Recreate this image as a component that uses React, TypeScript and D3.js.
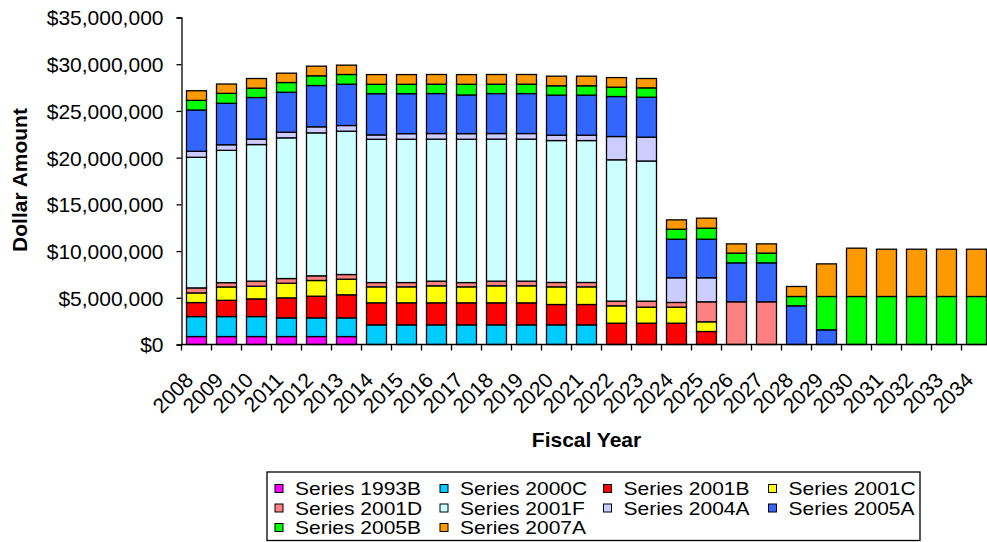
import { useEffect, useMemo, useRef } from "react";
import * as d3 from "d3";

const WIDTH = 987;
const HEIGHT = 542;
const MARGIN = { top: 17.5, left: 181.5, right: -4.5, bottom: 197.5 };
const FONT = "'Liberation Sans', Arial, sans-serif";

const years = [
  "2008", "2009", "2010", "2011", "2012", "2013", "2014", "2015", "2016",
  "2017", "2018", "2019", "2020", "2021", "2022", "2023", "2024", "2025",
  "2026", "2027", "2028", "2029", "2030", "2031", "2032", "2033", "2034",
];

// values in millions of dollars, one per fiscal year
const s1993B = [0.85, 0.85, 0.85, 0.85, 0.85, 0.85, 0, 0, 0, 0, 0, 0, 0, 0, 0, 0, 0, 0, 0, 0, 0, 0, 0, 0, 0, 0, 0];
const s2000C = [2.14, 2.14, 2.14, 2.0, 2.0, 2.0, 2.1, 2.1, 2.1, 2.1, 2.1, 2.1, 2.1, 2.1, 0, 0, 0, 0, 0, 0, 0, 0, 0, 0, 0, 0, 0];
const s2001B = [1.5, 1.74, 1.89, 2.14, 2.32, 2.47, 2.36, 2.36, 2.36, 2.36, 2.36, 2.36, 2.18, 2.18, 2.28, 2.28, 2.28, 1.39, 0, 0, 0, 0, 0, 0, 0, 0, 0];
const s2001C = [1.03, 1.43, 1.36, 1.57, 1.68, 1.67, 1.71, 1.71, 1.82, 1.71, 1.82, 1.82, 1.89, 1.89, 1.86, 1.72, 1.72, 1.04, 0, 0, 0, 0, 0, 0, 0, 0, 0];
const s2001D = [0.54, 0.46, 0.54, 0.5, 0.5, 0.5, 0.46, 0.46, 0.5, 0.46, 0.5, 0.5, 0.47, 0.47, 0.5, 0.64, 0.5, 2.14, 4.57, 4.57, 0, 0, 0, 0, 0, 0, 0];
const s2001F = [13.98, 14.16, 14.62, 15.06, 15.3, 15.34, 15.34, 15.34, 15.2, 15.34, 15.2, 15.2, 15.19, 15.19, 15.13, 15.0, 0, 0, 0, 0, 0, 0, 0, 0, 0, 0, 0];
const s2004A = [0.64, 0.6, 0.58, 0.6, 0.65, 0.61, 0.46, 0.6, 0.6, 0.6, 0.6, 0.6, 0.57, 0.57, 2.49, 2.55, 2.64, 2.57, 0, 0, 0, 0, 0, 0, 0, 0, 0];
const s2005A = [4.42, 4.43, 4.46, 4.28, 4.42, 4.42, 4.42, 4.28, 4.28, 4.14, 4.28, 4.28, 4.29, 4.29, 4.28, 4.28, 4.13, 4.13, 4.17, 4.17, 4.14, 1.57, 0, 0, 0, 0, 0];
const s2005B = [1.03, 1.07, 1.0, 1.04, 1.04, 1.04, 1.0, 1.0, 1.0, 1.14, 1.0, 1.0, 1.0, 1.0, 1.0, 1.0, 1.07, 1.18, 1.04, 1.04, 1.0, 3.57, 5.14, 5.14, 5.14, 5.14, 5.14];
const s2007A = [1.03, 1.0, 1.03, 1.0, 1.03, 1.0, 1.04, 1.04, 1.04, 1.04, 1.04, 1.04, 1.03, 1.03, 1.03, 1.0, 1.0, 1.07, 0.99, 0.99, 1.07, 3.49, 5.17, 5.06, 5.06, 5.06, 5.06];

const seriesNames = [
  "Series 1993B", "Series 2000C", "Series 2001B", "Series 2001C", "Series 2001D",
  "Series 2001F", "Series 2004A", "Series 2005A", "Series 2005B", "Series 2007A",
];
const seriesValues = [s1993B, s2000C, s2001B, s2001C, s2001D, s2001F, s2004A, s2005A, s2005B, s2007A];
const seriesColors = [
  "#FF00FF", "#00CCFF", "#FF0000", "#FFFF00", "#FF8080",
  "#CCFFFF", "#CCCCFF", "#3366FF", "#00FF00", "#FF9900",
];
const yTicks = [0, 5e6, 10e6, 15e6, 20e6, 25e6, 30e6, 35e6];

type Row = { year: string } & Record<string, number | string>;

const Chart = () => {
  const yAxisRef = useRef<SVGGElement>(null);
  const boundsWidth = WIDTH - MARGIN.left - MARGIN.right;
  const boundsHeight = HEIGHT - MARGIN.top - MARGIN.bottom;

  const rows: Row[] = useMemo(
    () =>
      years.map((year, i) => {
        const r: Row = { year };
        seriesNames.forEach((name, k) => {
          r[name] = seriesValues[k][i] * 1e6;
        });
        return r;
      }),
    []
  );

  const stacked = useMemo(() => d3.stack<Row>().keys(seriesNames)(rows), [rows]);

  const xScale = useMemo(
    () =>
      d3.scaleBand().domain(years).range([0, boundsWidth]).paddingInner(1 / 3).paddingOuter(1 / 6),
    [boundsWidth]
  );
  const yScale = useMemo(
    () => d3.scaleLinear().domain([0, 35e6]).range([boundsHeight, 0]),
    [boundsHeight]
  );

  // y axis drawn by d3
  useEffect(() => {
    const g = d3.select(yAxisRef.current);
    g.selectAll("*").remove();
    g.call(
      d3.axisLeft(yScale).tickValues(yTicks).tickFormat(d3.format("$,")).tickSize(5).tickPadding(13)
    );
    g.select(".domain").attr("stroke", "#000").attr("stroke-width", 1.3);
    g.selectAll(".tick line").attr("stroke", "#000").attr("stroke-width", 1.3);
    g.selectAll(".tick text")
      .attr("font-family", FONT)
      .attr("font-size", 21)
      .attr("fill", "#000")
      .attr("dy", "0.35em");
    g.attr("font-size", null).attr("font-family", null);
  }, [yScale]);

  const step = xScale.step();
  const bw = xScale.bandwidth();

  const bars = stacked.map((layer, k) => (
    <g key={layer.key} fill={seriesColors[k]}>
      {layer.map((d, i) => {
        const h = yScale(d[0]) - yScale(d[1]);
        if (h <= 0) return null;
        return (
          <rect
            key={i}
            x={xScale(years[i]) ?? 0}
            y={yScale(d[1])}
            width={bw}
            height={h}
            stroke="#000"
            strokeWidth={1.3}
          />
        );
      })}
    </g>
  ));

  const legendCols = [275, 440, 603.5, 768.5];
  const legendRows = [495, 514.5, 534];

  return (
    <svg
      width={WIDTH}
      height={HEIGHT}
      style={{ position: "absolute", left: 0, top: 0, display: "block", background: "#fff" }}
      fontFamily={FONT}
    >
      <g transform={`translate(${MARGIN.left},${MARGIN.top})`}>
        {bars}
        {/* x axis, ticks sit between the categories */}
        <line x1={0} x2={boundsWidth} y1={boundsHeight} y2={boundsHeight} stroke="#000" strokeWidth={1.3} />
        {d3.range(years.length + 1).map((i) => (
          <line
            key={i}
            x1={i * step}
            x2={i * step}
            y1={boundsHeight}
            y2={boundsHeight + 6}
            stroke="#000"
            strokeWidth={1.3}
          />
        ))}
        {years.map((yr) => {
          const cx = (xScale(yr) ?? 0) + bw / 2;
          return (
            <text
              key={yr}
              transform={`translate(${cx - 2},${boundsHeight + 37}) rotate(-45)`}
              textAnchor="end"
              fontSize={21}
              fill="#000"
            >
              {yr}
            </text>
          );
        })}
        <g ref={yAxisRef} />
      </g>

      <text x={586.5} y={447} textAnchor="middle" fontSize={21} fontWeight="bold">
        Fiscal Year
      </text>
      <text
        transform="translate(27,180) rotate(-90)"
        textAnchor="middle"
        fontSize={21}
        fontWeight="bold"
      >
        Dollar Amount
      </text>

      {/* legend */}
      <rect x={267} y={472} width={653} height={68.5} fill="#fff" stroke="#000" strokeWidth={1.3} />
      {seriesNames.map((name, k) => {
        const col = k % 4;
        const row = Math.floor(k / 4);
        const lx = legendCols[col];
        const ly = legendRows[row];
        return (
          <g key={name}>
            <rect x={lx} y={ly - 10.5} width={8} height={8} fill={seriesColors[k]} stroke="#000" strokeWidth={1} />
            <text
              transform={`translate(${lx + 20},${ly}) scale(1.18,1)`}
              fontSize={17.8}
              fill="#000"
            >
              {name}
            </text>
          </g>
        );
      })}
    </svg>
  );
};

export default function App() {
  return <Chart />;
}
